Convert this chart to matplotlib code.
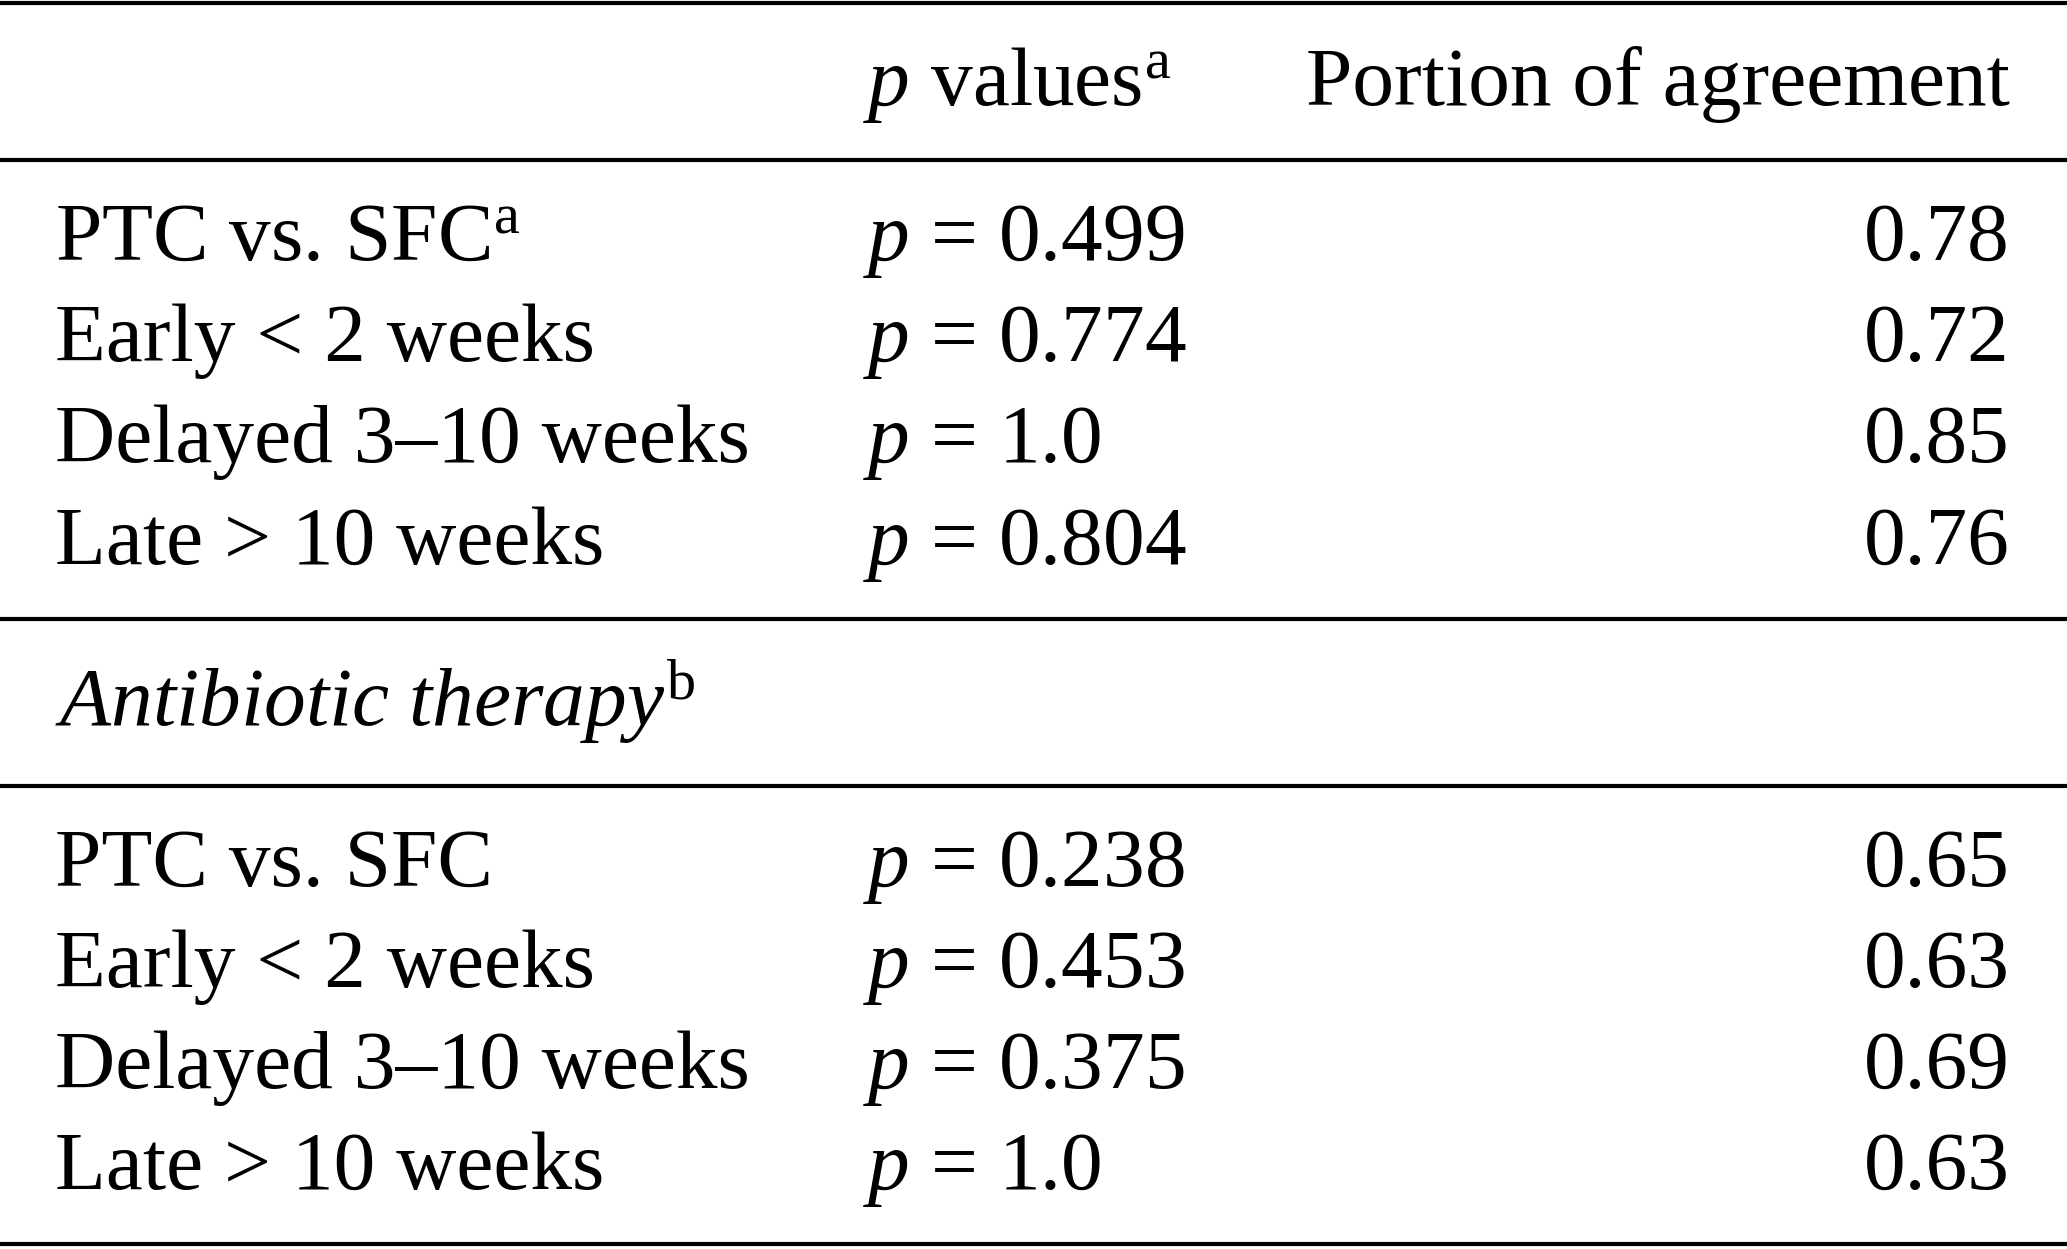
import matplotlib
matplotlib.use("Agg")
import matplotlib.pyplot as plt

# table contents
labels_top = ["PTC vs. SFC$^{\\mathrm{a}}$", "Early < 2 weeks", "Delayed 3\u201310 weeks", "Late > 10 weeks"]
pvals_top = ["0.499", "0.774", "1.0", "0.804"]
agree_top = ["0.78", "0.72", "0.85", "0.76"]

labels_bot = ["PTC vs. SFC", "Early < 2 weeks", "Delayed 3\u201310 weeks", "Late > 10 weeks"]
pvals_bot = ["0.238", "0.453", "0.375", "1.0"]
agree_bot = ["0.65", "0.63", "0.69", "0.63"]

plt.rcParams['font.family'] = 'Liberation Serif'
plt.rcParams['mathtext.fontset'] = 'custom'
plt.rcParams['mathtext.rm'] = 'Liberation Serif'
plt.rcParams['mathtext.it'] = 'Liberation Serif:italic'
plt.rcParams['mathtext.bf'] = 'Liberation Serif:bold'

W, H = 2067, 1249
fig = plt.figure(figsize=(W / 100, H / 100), dpi=100)
ax = fig.add_axes([0, 0, 1, 1])
ax.set_xlim(0, W)
ax.set_ylim(H, 0)
ax.axis('off')

fs = 60
x_lab, x_p, x_r = 55, 863, 2010

# rules
for y in [3, 160, 619, 786, 1244]:
    ax.axhline(y, color='black', lw=3)

# header
ax.text(x_p, 105, "$p$ values$^{\\mathrm{a}}$", fontsize=fs, va='baseline', ha='left')
ax.text(x_r, 105, "Portion of agreement", fontsize=fs, va='baseline', ha='right')

rows_top = [260, 361, 462, 564]
for y, lab, p, a in zip(rows_top, labels_top, pvals_top, agree_top):
    ax.text(x_lab, y, lab, fontsize=fs, va='baseline', ha='left')
    ax.text(x_p, y, "$p$ = " + p, fontsize=fs, va='baseline', ha='left')
    ax.text(x_r, y, a, fontsize=fs, va='baseline', ha='right')

ax.text(x_lab, 726, "$\\it{Antibiotic\\ therapy}^{\\mathrm{b}}$", fontsize=fs, va='baseline', ha='left')

rows_bot = [886, 987, 1088, 1189]
for y, lab, p, a in zip(rows_bot, labels_bot, pvals_bot, agree_bot):
    ax.text(x_lab, y, lab, fontsize=fs, va='baseline', ha='left')
    ax.text(x_p, y, "$p$ = " + p, fontsize=fs, va='baseline', ha='left')
    ax.text(x_r, y, a, fontsize=fs, va='baseline', ha='right')

fig.savefig("out.png", dpi=100)
